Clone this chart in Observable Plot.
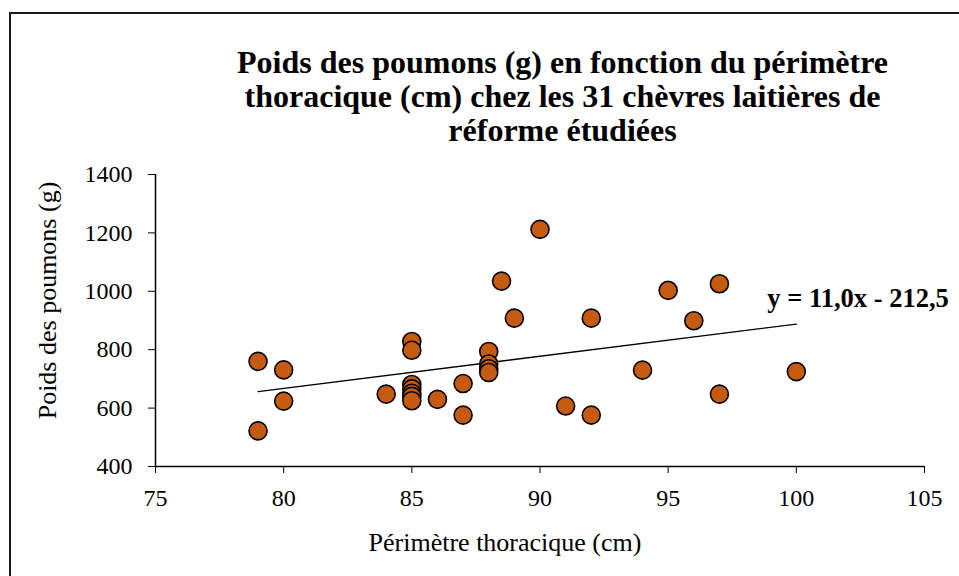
<!DOCTYPE html>
<html>
<head>
<meta charset="utf-8">
<script src="https://cdn.jsdelivr.net/npm/d3@7"></script>
<script src="https://cdn.jsdelivr.net/npm/@observablehq/plot@0.6"></script>
<style>
  html, body { margin: 0; padding: 0; background: #fff; }
  #wrap { position: relative; width: 959px; height: 576px; overflow: hidden; font-family: "Liberation Serif", "Times New Roman", Times, "DejaVu Serif", serif; }
  #frame { position: absolute; left: 9px; top: 12px; width: 1000px; height: 700px; border: 2px solid #1a1a1a; box-sizing: border-box; pointer-events: none; }
  #title { height: 150px; box-sizing: border-box; padding-top: 45px; padding-left: 125px; width: 1000px; text-align: center; font-weight: bold; font-size: 32px; line-height: 34px; color: #000; }
  #title div { width: 875px; margin: 0; white-space: nowrap; }
  #chart svg { display: block; }
</style>
</head>
<body>
<div id="wrap">
  <div id="title"><div>Poids des poumons (g) en fonction du périmètre<br>thoracique (cm) chez les 31 chèvres laitières de<br>réforme étudiées</div></div>
  <div id="chart"></div>
  <div id="frame"></div>
</div>
<script>
// Data
const perimetre = [79, 79, 80, 80, 84, 85, 85, 85, 85, 85, 85, 85, 86, 87, 87, 88, 88, 88, 88, 88.5, 89, 90, 91, 92, 92, 94, 95, 96, 97, 97, 100];
const poids =     [760, 522, 731, 624, 648, 828, 798, 681, 666, 651, 640, 625, 630, 684, 576, 794, 751, 735, 722, 1035, 908, 1212, 607, 576, 908, 730, 1003, 899, 1026, 648, 725];
const slope = 11.0;
const intercept = -212.5;
const equationLabel = "y = 11,0x - 212,5";
const xTicks = [75, 80, 85, 90, 95, 100, 105];
const yTicks = [400, 600, 800, 1000, 1200, 1400];
const xTitle = "Périmètre thoracique (cm)";
const yTitle = "Poids des poumons (g)";

const points = perimetre.map((x, i) => ({x, y: poids[i]}));
const xMin = d3.min(perimetre), xMax = d3.max(perimetre);
const trend = [xMin, xMax].map(x => ({x, y: slope * x + intercept}));

const serif = "'Liberation Serif', 'Times New Roman', Times, 'DejaVu Serif', serif";
const chart = Plot.plot({
  width: 959,
  height: 426,
  marginLeft: 155,
  marginRight: 35,
  marginTop: 24,
  marginBottom: 110,
  style: {fontFamily: serif, fontSize: "24px", color: "#000", background: "transparent", overflow: "visible"},
  x: {domain: [75, 105]},
  y: {domain: [400, 1400]},
  marks: [
    Plot.axisX({ticks: xTicks, tickSize: 7, tickPadding: 15, tickFormat: d => String(d), label: null, fontSize: 24, fontFamily: serif}),
    Plot.axisY({ticks: yTicks, tickSize: 7, tickPadding: 16, tickFormat: d => String(d), label: null, fontSize: 24, fontFamily: serif}),
    Plot.ruleX([75], {stroke: "#000", strokeWidth: 1.5}),
    Plot.ruleY([400], {stroke: "#000", strokeWidth: 1.5}),
    Plot.line(trend, {x: "x", y: "y", stroke: "#000", strokeWidth: 1.3}),
    Plot.dot(points, {x: "x", y: "y", r: 9, fill: "#C55A11", stroke: "#000", strokeWidth: 1.6, fillOpacity: 1}),
    Plot.text([trend[1]], {x: "x", y: "y", text: () => equationLabel, textAnchor: "start", dx: -29, dy: -26, fontWeight: "bold", fontSize: 26.5, fontFamily: serif, fill: "#000"}),
    Plot.text([xTitle], {frameAnchor: "bottom", text: d => d, textAnchor: "middle", dx: -35, dy: 84, fontSize: 26, fontFamily: serif, fill: "#000"}),
    Plot.text([yTitle], {frameAnchor: "left", text: d => d, textAnchor: "middle", rotate: -90, dx: -108, dy: -20, fontSize: 26, fontFamily: serif, fill: "#000"})
  ]
});
document.getElementById("chart").appendChild(chart);
</script>
</body>
</html>
